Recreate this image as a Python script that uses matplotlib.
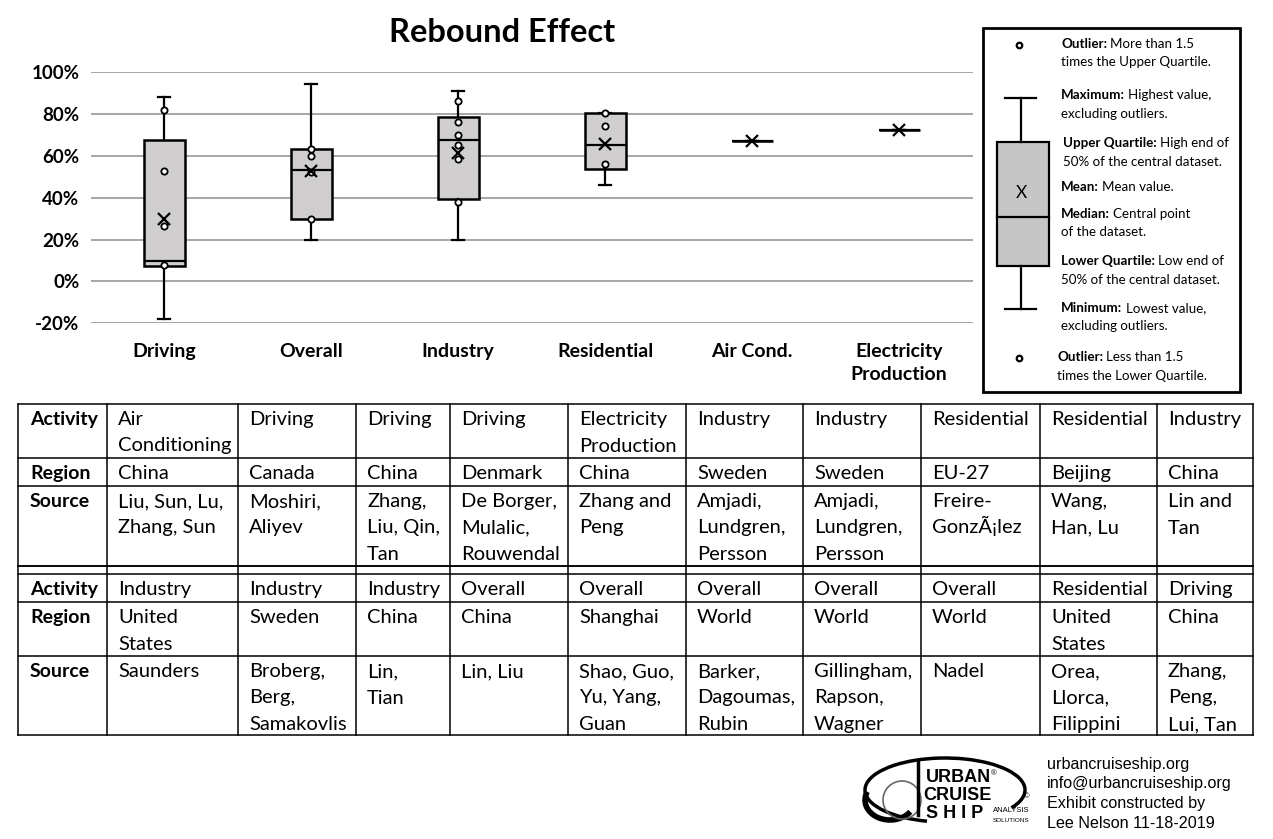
import matplotlib.pyplot as plt
from matplotlib.patches import Rectangle, Circle, Arc
from matplotlib.ticker import FuncFormatter

# box plot data (percent)
categories = ["Driving", "Overall", "Industry", "Residential", "Air Cond.", "Electricity\nProduction"]
q1 = [7.6, 29.7, 39.3, 53.8, 67.2, 72.3]
medians = [9.8, 53.3, 67.6, 65.1, 67.2, 72.3]
q3 = [67.6, 63.2, 78.5, 80.7, 67.2, 72.3]
whis_lo = [-17.9, 19.7, 19.7, 46.0, 67.2, 72.3]
whis_hi = [88.0, 94.4, 90.9, 80.7, 67.2, 72.3]
means = [29.9, 53.0, 61.3, 65.6, 67.2, 72.3]
points = [
    [82.0, 53.0, 26.7, 7.9],
    [63.2, 60.0, 52.2, 30.0],
    [86.1, 76.1, 70.2, 65.1, 58.4, 38.0],
    [80.4, 74.2, 56.0],
    [],
    [],
]
y_ticks = [-20, 0, 20, 40, 60, 80, 100]

# source table
row_labels = ["Activity", "Region", "Source"]
table1_activity = ["Air\nConditioning", "Driving", "Driving", "Driving", "Electricity\nProduction",
                   "Industry", "Industry", "Residential", "Residential", "Industry"]
table1_region = ["China", "Canada", "China", "Denmark", "China", "Sweden", "Sweden", "EU-27",
                 "Beijing", "China"]
table1_source = ["Liu, Sun, Lu,\nZhang, Sun", "Moshiri,\nAliyev", "Zhang,\nLiu, Qin,\nTan",
                 "De Borger,\nMulalic,\nRouwendal", "Zhang and\nPeng", "Amjadi,\nLundgren,\nPersson",
                 "Amjadi,\nLundgren,\nPersson", "Freire-\nGonzÃ¡lez", "Wang,\nHan, Lu", "Lin and\nTan"]
table2_activity = ["Industry", "Industry", "Industry", "Overall", "Overall", "Overall", "Overall",
                   "Overall", "Residential", "Driving"]
table2_region = ["United\nStates", "Sweden", "China", "China", "Shanghai", "World", "World", "World",
                 "United\nStates", "China"]
table2_source = ["Saunders", "Broberg,\nBerg,\nSamakovlis", "Lin,\nTian", "Lin, Liu",
                 "Shao, Guo,\nYu, Yang,\nGuan", "Barker,\nDagoumas,\nRubin", "Gillingham,\nRapson,\nWagner",
                 "Nadel", "Orea,\nLlorca,\nFilippini", "Zhang,\nPeng,\nLui, Tan"]

# legend explanations
legend_bold = ["Outlier:", "Maximum:", "Upper Quartile:", "Mean:", "Median:", "Lower Quartile:",
               "Minimum:", "Outlier:"]
legend_rest = ["More than 1.5", "Highest value,", "High end of", "Mean value.", "Central point",
               "Low end of", "Lowest value,", "Less than 1.5"]
legend_second = ["times the Upper Quartile.", "excluding outliers.", "50% of the central dataset.", "",
                 "of the dataset.", "50% of the central dataset.", "excluding outliers.",
                 "times the Lower Quartile."]

footer_lines = ["urbancruiseship.org", "info@urbancruiseship.org", "Exhibit constructed by",
                "Lee Nelson 11-18-2019"]

plt.rcParams["font.family"] = ["Lato", "DejaVu Sans"]

W, H = 1273, 839
fig = plt.figure(figsize=(W / 100, H / 100), dpi=100)
renderer = fig.canvas.get_renderer()

# overlay axes in pixel coordinates for table, legend and footer
ov = fig.add_axes([0, 0, 1, 1])
ov.set_xlim(0, W)
ov.set_ylim(H, 0)
ov.axis("off")


def text_width(s, **kw):
    t = ov.text(0, 0, s, **kw)
    w = t.get_window_extent(renderer=renderer).width
    t.remove()
    return w


# ---- box plot ----
ax = fig.add_axes([90.7 / W, 1 - 323.3 / H, 882 / W, 251 / H])
stats = []
for i in range(len(categories)):
    stats.append(dict(med=medians[i], q1=q1[i], q3=q3[i], whislo=whis_lo[i], whishi=whis_hi[i],
                      mean=means[i], fliers=points[i]))
ax.bxp(stats, positions=range(len(categories)), widths=0.277, capwidths=0.08,
       showmeans=True, patch_artist=True,
       boxprops=dict(facecolor="#d0cece", edgecolor="black", linewidth=1.8),
       medianprops=dict(color="black", linewidth=1.6),
       whiskerprops=dict(color="black", linewidth=1.6),
       capprops=dict(color="black", linewidth=1.6),
       meanprops=dict(marker="x", markersize=9, markeredgecolor="black", markeredgewidth=1.6),
       flierprops=dict(marker="o", markersize=4.5, markerfacecolor="white",
                       markeredgecolor="black", markeredgewidth=1.3))
ax.set_xlim(-0.5, len(categories) - 0.5)
ax.set_ylim(-20, 100)
ax.set_yticks(y_ticks)
ax.yaxis.set_major_formatter(FuncFormatter(lambda v, p: f"{v:.0f}%"))
ax.set_xticks(range(len(categories)))
ax.set_xticklabels(categories, fontsize=14, fontweight="bold", linespacing=1.45)
for lab in ax.get_yticklabels():
    lab.set_fontsize(13.5)
    lab.set_fontweight("bold")
ax.tick_params(axis="both", length=0)
ax.tick_params(axis="y", pad=8)
ax.tick_params(axis="x", pad=14)
for s in ax.spines.values():
    s.set_visible(False)
ax.set_facecolor("none")
ax.set_axisbelow(True)
ax.yaxis.grid(True, color="#a6a6a6", linewidth=1.4)

fig.text(502 / W, 1 - 33 / H, "Rebound Effect", fontsize=23.5, fontweight="bold",
         ha="center", va="center")

# ---- legend box ----
ov.add_patch(Rectangle((983, 28), 257, 364, fill=False, edgecolor="black", linewidth=2))
ov.add_patch(Rectangle((997, 142), 52, 124, facecolor="#c6c6c6", edgecolor="black", linewidth=1.6))
ov.plot([997, 1049], [217, 217], color="black", linewidth=1.6)
ov.plot([1021, 1021], [98, 142], color="black", linewidth=1.6)
ov.plot([1021, 1021], [266, 309], color="black", linewidth=1.6)
ov.plot([1005, 1036], [98, 98], color="black", linewidth=1.6)
ov.plot([1005, 1036], [309, 309], color="black", linewidth=1.6)
ov.text(1021, 193, "X", fontsize=12.5, ha="center", va="center")
ov.plot([1019, 1019], [45, 358], linestyle="none", marker="o", markersize=4,
        markerfacecolor="white", markeredgecolor="black", markeredgewidth=1.6)

leg_fs = 9.6
space_w = text_width("n n", fontsize=leg_fs) - text_width("nn", fontsize=leg_fs)
x_w = text_width("x", fontsize=leg_fs, fontweight="bold")
leg_x = [1061, 1061, 1063, 1061, 1061, 1061, 1061, 1057]
leg_y = [48, 99, 147, 191, 218, 265, 312, 361]
for i in range(len(legend_bold)):
    ov.text(leg_x[i], leg_y[i], legend_bold[i], fontsize=leg_fs, fontweight="bold",
            ha="left", va="baseline")
    adv = text_width(legend_bold[i] + "x", fontsize=leg_fs, fontweight="bold") - x_w
    ov.text(leg_x[i] + adv + space_w, leg_y[i], legend_rest[i], fontsize=leg_fs,
            ha="left", va="baseline")
    if legend_second[i]:
        ov.text(leg_x[i], leg_y[i] + 18.5, legend_second[i], fontsize=leg_fs, ha="left", va="baseline")

# ---- table ----
col_edges = [18, 107, 238, 356, 450, 568, 686, 803, 921, 1040, 1157, 1253]
blocks = [
    ([404, 458, 486, 566], [table1_activity, table1_region, table1_source]),
    ([574, 602, 656, 735], [table2_activity, table2_region, table2_source]),
]
line_h = 26.5
for xe in col_edges:
    ov.plot([xe, xe], [404, 735], color="black", linewidth=1.1)
ov.plot([18, 1253], [566, 566], color="black", linewidth=1.1)
for rows, cells in blocks:
    for ye in rows:
        ov.plot([18, 1253], [ye, ye], color="black", linewidth=1.1)
    for r in range(3):
        top = rows[r]
        ov.text(30, top + 21, row_labels[r], fontsize=14, fontweight="bold", ha="left", va="baseline")
        for c, txt in enumerate(cells[r]):
            for k, line in enumerate(txt.split("\n")):
                ov.text(col_edges[c + 1] + 11, top + 21 + k * line_h, line, fontsize=14.5,
                        ha="left", va="baseline")

# ---- footer ----
for k, line in enumerate(footer_lines):
    ov.text(1047, 764 + k * 19.7, line, fontsize=11.6, family="Liberation Sans",
            ha="left", va="center")

# rough logo
ov.add_patch(Arc((945, 790), 160, 64, theta1=120, theta2=15, color="black", linewidth=2.5))
ov.add_patch(Arc((890, 800), 50, 40, theta1=30, theta2=200, color="black", linewidth=4))
ov.add_patch(Circle((902, 800), 19, fill=False, edgecolor="#666666", linewidth=1.2))
ov.plot([918, 918], [762, 815], color="black", linewidth=2.5)
ov.text(958, 778, "URBAN", fontsize=13, fontweight="bold", family="Liberation Sans",
        ha="center", va="center")
ov.text(957, 796, "CRUISE", fontsize=13, fontweight="bold", family="Liberation Sans",
        ha="center", va="center")
ov.text(955, 814, "S H I P", fontsize=13, fontweight="bold", family="Liberation Sans",
        ha="center", va="center")
ov.text(993, 810, "ANALYSIS", fontsize=5.5, family="Liberation Sans", ha="left", va="center")
ov.text(993, 820, "SOLUTIONS", fontsize=4.6, family="Liberation Sans", ha="left", va="center")
ov.text(994, 774, "®", fontsize=5.5, family="Liberation Sans", ha="center", va="center")
ov.text(1027, 797, "©", fontsize=5.5, family="Liberation Sans", ha="center", va="center")

fig.savefig("out.png", dpi=100)
